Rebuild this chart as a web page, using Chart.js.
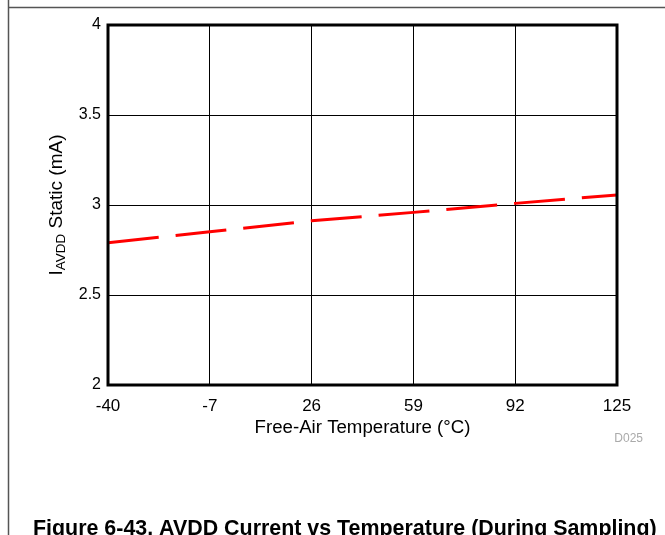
<!DOCTYPE html>
<html>
<head>
<meta charset="utf-8">
<script src="https://cdn.jsdelivr.net/npm/chart.js@4"></script>
<style>
  html, body { margin: 0; padding: 0; background: #fff; }
  #wrap { width: 665px; height: 535px; position: relative; }
</style>
</head>
<body>
<div id="wrap"><canvas id="avdd" width="665" height="535"></canvas></div>
<script>
// temperature points (deg C) and static AVDD current (mA)
var temps = [-40, -7, 26, 59, 92, 125];
var currents = [2.79, 2.851, 2.912, 2.959, 3.009, 3.056];
var xTicks = [-40, -7, 26, 59, 92, 125];
var yTicks = [2, 2.5, 3, 3.5, 4];

var font = "'Liberation Sans', Arial, sans-serif";

// frame, plot border, axis titles, caption
var decor = {
  id: "decor",
  afterDraw: function (chart) {
    var c = chart.ctx, a = chart.chartArea;
    c.save();

    // page frame lines
    c.strokeStyle = "#555";
    c.lineWidth = 1.5;
    c.beginPath();
    c.moveTo(8.5, 0); c.lineTo(8.5, 535);
    c.moveTo(8, 7.5); c.lineTo(665, 7.5);
    c.stroke();

    // thick plot border
    c.strokeStyle = "#000";
    c.lineWidth = 3;
    c.strokeRect(a.left, a.top, a.right - a.left, a.bottom - a.top);

    // y axis title with subscript
    c.fillStyle = "#000";
    c.translate(62, 205);
    c.rotate(-Math.PI / 2);
    c.textBaseline = "alphabetic";
    c.textAlign = "left";
    var big = "19px " + font, small = "13.5px " + font;
    c.font = big; var w1 = c.measureText("I").width;
    c.font = small; var w2 = c.measureText("AVDD").width;
    c.font = big; var w3 = c.measureText(" Static (mA)").width;
    var x0 = -(w1 + w2 + w3) / 2;
    c.font = big; c.fillText("I", x0, 0);
    c.font = small; c.fillText("AVDD", x0 + w1, 3);
    c.font = big; c.fillText(" Static (mA)", x0 + w1 + w2, 0);
    c.setTransform(1, 0, 0, 1, 0, 0);

    // x axis title
    var xt = "Free-Air Temperature (\u00B0C)";
    c.font = "18px " + font;
    var xs = 18 * 216 / c.measureText(xt).width;
    c.font = xs.toFixed(2) + "px " + font;
    c.textAlign = "center";
    c.fillText(xt, (a.left + a.right) / 2, 433);

    // figure code
    c.fillStyle = "#aaa";
    c.font = "12px " + font;
    c.textAlign = "right";
    c.fillText("D025", 643, 442);

    // caption at bottom
    var cap = "Figure 6-43. AVDD Current vs Temperature (During Sampling)";
    c.fillStyle = "#000";
    c.textAlign = "left";
    c.font = "bold 18px " + font;
    var cw = c.measureText(cap).width;
    var size = 18 * 624 / cw;
    c.font = "bold " + size.toFixed(2) + "px " + font;
    c.fillText(cap, 33, 535);

    c.restore();
  }
};

var ctx = document.getElementById("avdd");
var avddChart = new Chart(ctx, {
  type: "line",
  data: {
    datasets: [{
      data: temps.map(function (t, i) { return { x: t, y: currents[i] }; }),
      borderColor: "#ff0000",
      borderWidth: 3,
      borderDash: [51, 17],
      pointRadius: 0,
      fill: false,
      tension: 0
    }]
  },
  options: {
    responsive: false,
    animation: false,
    devicePixelRatio: 1,
    layout: { padding: { left: 0, top: 25, right: 48, bottom: 0 } },
    plugins: {
      legend: { display: false },
      tooltip: { enabled: false }
    },
    scales: {
      x: {
        type: "linear",
        min: -40,
        max: 125,
        afterBuildTicks: function (s) { s.ticks = xTicks.map(function (v) { return { value: v }; }); },
        afterFit: function (s) { s.height = 150; },
        grid: { color: "#000", lineWidth: 1, drawTicks: false },
        border: { display: false },
        ticks: {
          color: "#000",
          padding: 11,
          maxRotation: 0,
          autoSkip: false,
          font: { family: font, size: 17 },
          callback: function (v) { return String(v); }
        }
      },
      y: {
        min: 2,
        max: 4,
        afterBuildTicks: function (s) { s.ticks = yTicks.map(function (v) { return { value: v }; }); },
        afterFit: function (s) { s.width = 108; },
        grid: { color: "#000", lineWidth: 1, drawTicks: false },
        border: { display: false },
        ticks: {
          color: "#000",
          padding: 7,
          autoSkip: false,
          font: { family: font, size: 16 },
          callback: function (v) { return String(v); }
        }
      }
    }
  },
  plugins: [decor]
});
</script>
</body>
</html>
